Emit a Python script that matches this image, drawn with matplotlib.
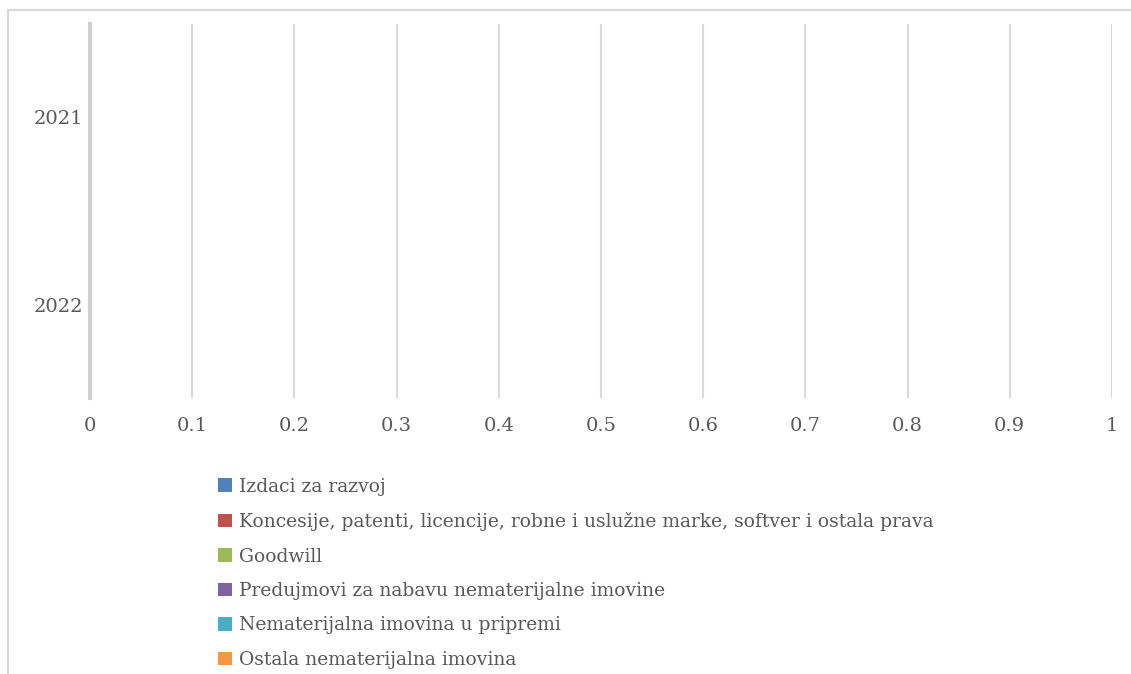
import matplotlib
matplotlib.use('Agg')
import matplotlib.pyplot as plt
from matplotlib.patches import Rectangle

years = ['2021', '2022']
series = ['Izdaci za razvoj',
          'Koncesije, patenti, licencije, robne i uslužne marke, softver i ostala prava',
          'Goodwill',
          'Predujmovi za nabavu nematerijalne imovine',
          'Nematerijalna imovina u pripremi',
          'Ostala nematerijalna imovina']
values = [[0, 0], [0, 0], [0, 0], [0, 0], [0, 0], [0, 0]]
colors = ['#4F81BD', '#C0504D', '#9BBB59', '#8064A2', '#4BACC6', '#F79646']
xticks = [0, 0.1, 0.2, 0.3, 0.4, 0.5, 0.6, 0.7, 0.8, 0.9, 1]

plt.rcParams['font.family'] = ['DejaVu Serif']
txt = '#595959'
grid = '#D9D9D9'

fig = plt.figure(figsize=(11.31, 6.74), dpi=100)
# chart area border (cut off at right and bottom)
fig.patches.append(Rectangle((8 / 1131, -0.1), 1.2, (1 - 10 / 674) + 0.1,
                             transform=fig.transFigure, fill=False,
                             edgecolor=grid, linewidth=1.5))

ax = fig.add_axes([90 / 1131, 1 - 398 / 674, 1022 / 1131, 374 / 674])
n = len(series)
h = 0.8 / n
handles = []
for i in range(n):
    pos = [j - 0.4 + h * (i + 0.5) for j in range(len(years))]
    b = ax.barh(pos, values[i], height=h, color=colors[i], label=series[i])
    handles.append(b)

ax.set_xlim(0, 1)
ax.set_ylim(1.5, -0.5)
ax.set_xticks(xticks)
ax.set_xticklabels([f'{t:g}' for t in xticks])
ax.set_yticks(range(len(years)))
ax.set_yticklabels(years)
ax.tick_params(length=0, labelsize=14, colors=txt)
ax.tick_params(axis='x', pad=14)
ax.tick_params(axis='y', pad=5)
ax.grid(axis='x', color=grid, linewidth=1.5)
ax.set_axisbelow(True)
for s in ['top', 'right', 'bottom']:
    ax.spines[s].set_visible(False)
ax.spines['left'].set_color('#D0D0D0')
ax.spines['left'].set_linewidth(3)

fig.legend(handles=handles, labels=series, loc='upper left',
           bbox_to_anchor=(210 / 1131, 1 - 470 / 674), frameon=False,
           fontsize=13.5, labelcolor=txt, handlelength=0.75, handleheight=0.75,
           handletextpad=0.4, labelspacing=0.88, borderaxespad=0)

fig.savefig('out.png', dpi=100)
